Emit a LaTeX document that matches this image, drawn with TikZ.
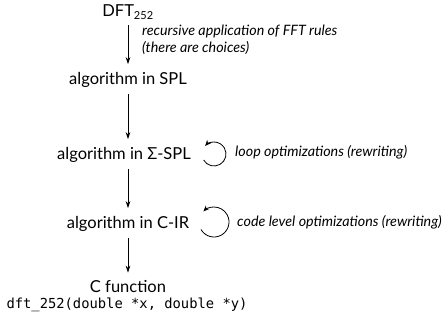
\documentclass[tikz,border=0pt]{standalone}
\usepackage{fontspec}
\setmainfont{Lato}
\setmonofont{DejaVu Sans Mono}
\usetikzlibrary{arrows.meta,calc}
\begin{document}
\begin{tikzpicture}[x=1pt,y=1pt,
  lbl/.style={font=\fontsize{16.5}{18}\selectfont, inner sep=0pt},
  note/.style={font=\itshape\fontsize{14.3}{16.5}\selectfont, inner sep=0pt, anchor=west, align=left},
  flow/.style={-{Stealth[length=7pt,width=4.5pt]}, line width=0.8pt, shorten <=6pt, shorten >=8pt},
  loop/.style={-{Stealth[length=6pt,width=5pt]}, line width=0.8pt}]
\useasboundingbox (0,0) rectangle (446,-324);
\node[lbl] (dft) at (128,-12) {DFT\textsubscript{\fontsize{11}{12}\selectfont 252}};
\node[lbl] (spl) at (128,-80) {algorithm in SPL};
\node[lbl] (sspl) at (124,-155) {algorithm in Σ-SPL};
\node[lbl] (cir) at (128,-224) {algorithm in C-IR};
\node[lbl] (cf) at (128,-287) {C function};
\node[inner sep=0pt, font=\ttfamily\fontsize{13.8}{16}\selectfont] (sig) at (127,-305) {dft\_252(double *x, double *y)};
\draw[flow] (dft) -- (spl);
\draw[flow] (spl) -- (spl |- sspl.north);
\draw[flow] (spl |- sspl.south) -- (cir);
\draw[flow] (cir) -- (cf);
\node[note] (n1) at (142,-40) {recursive application of FFT rules\\(there are choices)};
\coordinate (c1) at (214,-154);
\draw[loop] ($(c1)+(210:12)$) arc[start angle=210, end angle=498, radius=12];
\node[note] (n2) at (235,-152) {loop optimizations (rewriting)};
\coordinate (c2) at (214,-222);
\draw[loop] ($(c2)+(210:15)$) arc[start angle=210, end angle=495, radius=15];
\node[note] (n3) at (237,-222) {code level optimizations (rewriting)};
\end{tikzpicture}
\end{document}
